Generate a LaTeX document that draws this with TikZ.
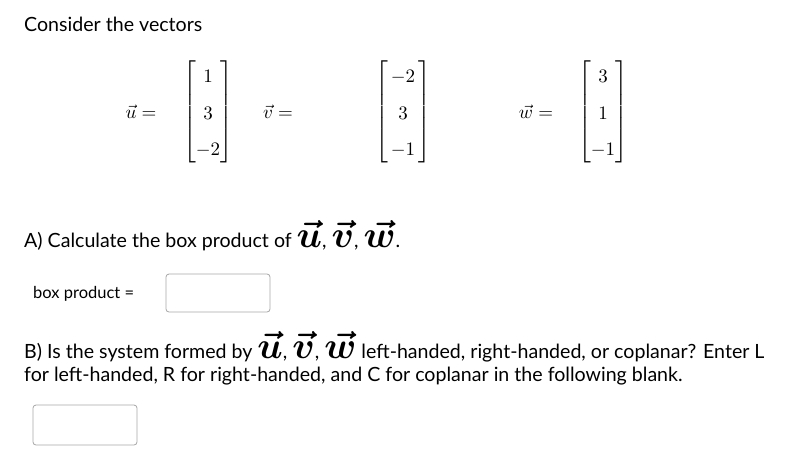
\documentclass[tikz,border=0pt]{standalone}
\usepackage{amsmath,bm}
\usepackage{fontspec}
\setmainfont{Lato}
\tikzset{txt/.style={anchor=base west,inner sep=0pt,font=\fontsize{19.6}{23}\selectfont},
ansbox/.style={draw=gray!70,rounded corners=3pt,line width=0.8pt},
mat/.style={inner sep=0pt,scale=1.9,transform shape}}
\newcommand{\mymat}[3]{$\renewcommand{\arraystretch}{1.6}\begin{bmatrix}\,#1\,\\ #2\\ #3\end{bmatrix}$}
\newcommand{\tv}[1]{\scalebox{1.8}{$\bm{\vec{#1}}$}}
\begin{document}
\begin{tikzpicture}[x=1pt,y=-1pt]
\useasboundingbox (0,0) rectangle (811,461);
\node[txt] (t1) at (24,31) {Consider the vectors};
\node[mat] (ul) at (141,112) {$\vec{u}=$};
\node[mat] (um) at (208,112) {\mymat{1}{3}{-2}};
\node[mat] (vl) at (278,112) {$\vec{v}=$};
\node[mat] (vm) at (403,112) {\mymat{-2}{3}{-1}};
\node[mat] (wl) at (536,112) {$\vec{w}=$};
\node[mat] (wm) at (603,112) {\mymat{3}{1}{-1}};
\node[txt] (a) at (24,247) {A) Calculate the box product of \tv{u}, \tv{v}, \tv{w}.};
\node[txt,font=\fontsize{16.5}{19}\selectfont] (bp) at (33,298) {box product =};
\draw[ansbox] (166,274) rectangle (270,312);
\node[txt] (b1) at (24,358) {B) Is the system formed by \tv{u}, \tv{v}, \tv{w} left-handed, right-handed, or coplanar? Enter L};
\node[txt] (b2) at (24,381) {for left-handed, R for right-handed, and C for coplanar in the following blank.};
\draw[ansbox] (33,405) rectangle (137,445);
\end{tikzpicture}
\end{document}
